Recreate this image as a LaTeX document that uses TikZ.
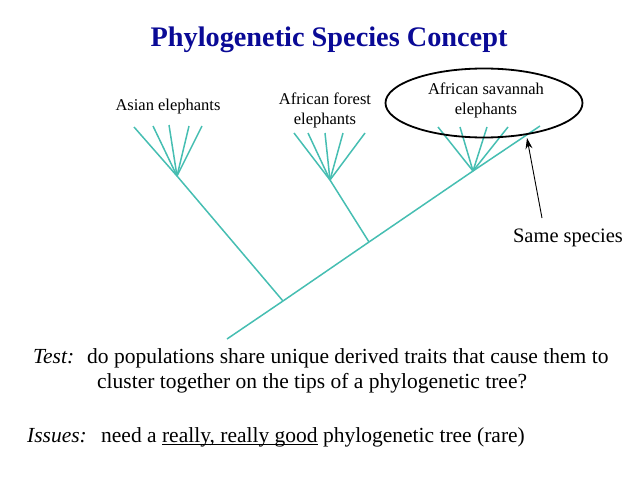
\documentclass[tikz,border=0pt]{standalone}
\usepackage{fontspec}
\setmainfont{Liberation Serif}
\usetikzlibrary{shapes.geometric,arrows.meta}
\definecolor{titleblue}{RGB}{10,10,150}
\definecolor{treeteal}{RGB}{70,190,178}
\newcommand\myul[1]{\setbox0\hbox{#1}\rlap{\rule[-2.6pt]{\wd0}{1pt}}\box0\relax}
\begin{document}
\begin{tikzpicture}[x=1pt,y=-1pt,
  branch/.style={draw=treeteal,line width=1.5pt},
  lbl/.style={font=\fontsize{16.5}{20}\selectfont,align=center,inner sep=0pt},
  body/.style={font=\fontsize{21.5}{24}\selectfont,inner sep=0pt,anchor=base west}]
\useasboundingbox (0,0) rectangle (638,479);
% title
\node[font=\bfseries\fontsize{28.3}{32}\selectfont,text=titleblue,inner sep=0pt] (title) at (329,40) {Phylogenetic Species Concept};
% tree points
\coordinate (root) at (227,339);
\coordinate (n1) at (283,301);
\coordinate (n2) at (369,242);
\coordinate (n3) at (473,171);
\coordinate (top) at (540,126);
\coordinate (fa) at (177,176);
\coordinate (ff) at (330,180);
% main axis
\draw[branch] (root) -- (n1) -- (n2) -- (n3) -- (top);
\draw[branch] (n1) -- (fa);
\draw[branch] (n2) -- (ff);
% Asian fan
\foreach \x/\y in {134/127,153/126,169/125,189/126,202/126}
  \draw[branch] (fa) -- (\x,\y);
% forest fan
\foreach \x/\y in {294/133,308/133,325/133,343/133,365/133}
  \draw[branch] (ff) -- (\x,\y);
% savannah fan
\foreach \x/\y in {438/127,460/127,487/127,508/127}
  \draw[branch] (n3) -- (\x,\y);
% labels
\node[lbl] (asian) at (168,107) {Asian elephants};
\node[lbl] (forest) at (325,110) {African forest\\elephants};
\node[lbl] (savannah) at (486,100) {African savannah\\elephants};
\node[draw,ellipse,line width=1.8pt,minimum width=197pt,minimum height=69pt] (ell) at (484,103) {};
\node[font=\fontsize{20.5}{24}\selectfont,inner sep=0pt] (same) at (568,238) {Same species};
\coordinate (tail) at (542,218);
\coordinate (tip) at (527,138);
\draw[line width=0.9pt,-{Stealth[length=11pt,width=7pt]}] (tail) -- (tip);
% body text
\node[body] (test) at (33,363) {\textit{Test:}};
\node[body] (test1) at (87,363) {do populations share unique derived traits that cause them to};
\node[body] (test2) at (97,388) {cluster together on the tips of a phylogenetic tree?};
\node[body] (issues) at (27,442) {\textit{Issues:}};
\node[body] (issues1) at (101,442) {need a \myul{really, really good} phylogenetic tree (rare)};
\end{tikzpicture}
\end{document}
